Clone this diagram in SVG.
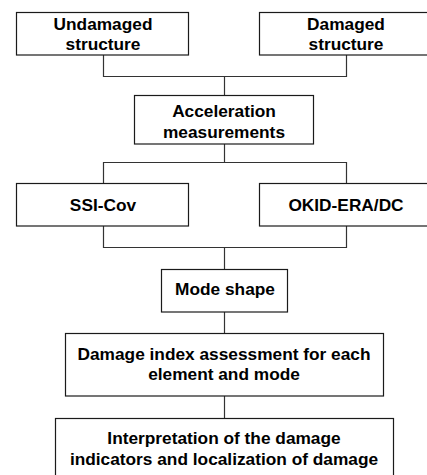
<svg xmlns="http://www.w3.org/2000/svg" width="427" height="475" viewBox="0 0 427 475">
  <style>
    .box { fill: #ffffff; stroke: #1a1a1a; stroke-width: 1.2; }
    .link { fill: none; stroke: #333333; stroke-width: 1.2; }
    .lbl { font-family: "Liberation Sans", Arial, sans-serif; font-weight: bold; font-size: 17.3px; fill: #000000; text-anchor: middle; }
  </style>
  <rect width="427" height="475" fill="#ffffff"/>

  <g id="connectors">
    <path class="link" d="M103.5,55 V76.5 H346.5 V55"/>
    <path class="link" d="M224.5,76.5 V95.5"/>
    <path class="link" d="M224.5,144 V162.5"/>
    <path class="link" d="M103.5,183.5 V162.5 H346.5 V183.5"/>
    <path class="link" d="M103.5,226 V247.5 H346.5 V226"/>
    <path class="link" d="M224.5,247.5 V269.5"/>
    <path class="link" d="M224.5,312 V333.5"/>
    <path class="link" d="M224.5,396 V418.5"/>
  </g>

  <g id="undamaged">
    <rect class="box" x="16.5" y="12.5" width="172" height="42.5"/>
    <text class="lbl" x="103" y="29.5">Undamaged</text>
    <text class="lbl" x="103" y="49.5">structure</text>
  </g>

  <g id="damaged">
    <rect class="box" x="259.5" y="12.5" width="172" height="42.5"/>
    <text class="lbl" x="346" y="29.5">Damaged</text>
    <text class="lbl" x="346" y="49.5">structure</text>
  </g>

  <g id="acceleration">
    <rect class="box" x="134.5" y="95.5" width="179" height="48.5"/>
    <text class="lbl" x="224" y="117">Acceleration</text>
    <text class="lbl" x="224" y="138">measurements</text>
  </g>

  <g id="ssi-cov">
    <rect class="box" x="16.5" y="183.5" width="172" height="42.5"/>
    <text class="lbl" x="103" y="211">SSI-Cov</text>
  </g>

  <g id="okid">
    <rect class="box" x="259.5" y="183.5" width="172" height="42.5"/>
    <text class="lbl" x="346" y="211">OKID-ERA/DC</text>
  </g>

  <g id="mode-shape">
    <rect class="box" x="161.5" y="269.5" width="126" height="42.5"/>
    <text class="lbl" x="225" y="295">Mode shape</text>
  </g>

  <g id="damage-index">
    <rect class="box" x="65.5" y="333.5" width="318" height="62.5"/>
    <text class="lbl" x="224" y="360">Damage index assessment for each</text>
    <text class="lbl" x="224" y="380">element and mode</text>
  </g>

  <g id="interpretation">
    <rect class="box" x="55.5" y="418.5" width="338" height="70"/>
    <text class="lbl" x="224" y="443.5">Interpretation of the damage</text>
    <text class="lbl" x="224" y="464.5">indicators and localization of damage</text>
  </g>
</svg>
